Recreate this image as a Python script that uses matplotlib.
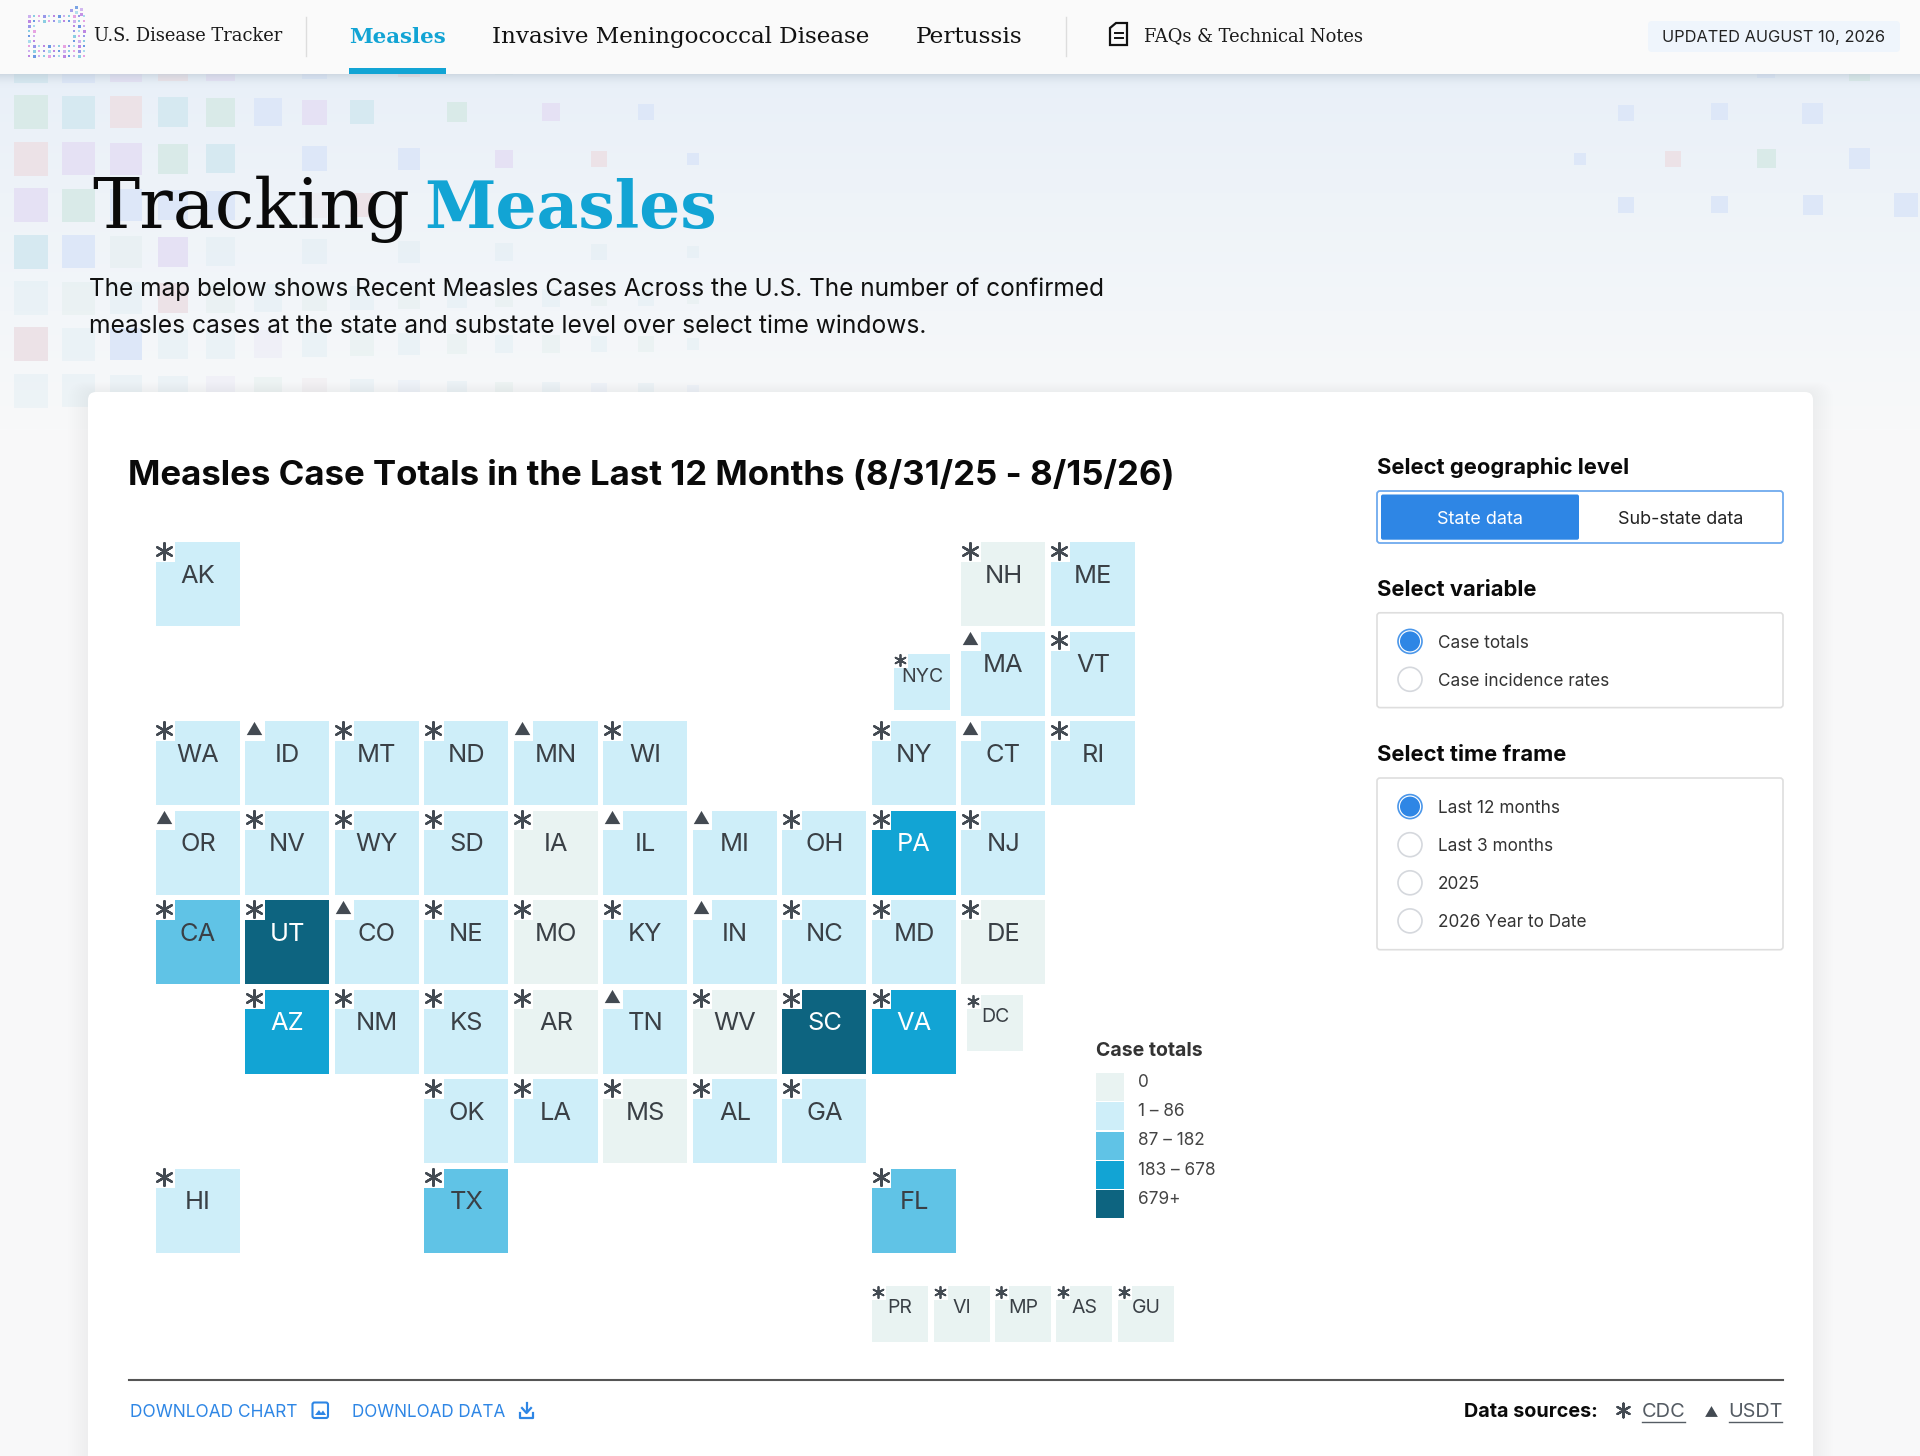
# Tile map of measles case totals, with the page around it

import matplotlib
matplotlib.use("Agg")
import numpy as np
import matplotlib.pyplot as plt
from matplotlib.patches import Rectangle, FancyBboxPatch, Circle, Polygon

SANS = "Inter"
SLAB = "DejaVu Serif"

# tile map, one list per row, "" is an empty cell
grid_rows = [
    ["AK", "", "", "", "", "", "", "", "", "NH", "ME"],
    ["", "", "", "", "", "", "", "", "", "MA", "VT"],
    ["WA", "ID", "MT", "ND", "MN", "WI", "", "", "NY", "CT", "RI"],
    ["OR", "NV", "WY", "SD", "IA", "IL", "MI", "OH", "PA", "NJ", ""],
    ["CA", "UT", "CO", "NE", "MO", "KY", "IN", "NC", "MD", "DE", ""],
    ["", "AZ", "NM", "KS", "AR", "TN", "WV", "SC", "VA", "", ""],
    ["", "", "", "OK", "LA", "MS", "AL", "GA", "", "", ""],
    ["HI", "", "", "TX", "", "", "", "", "FL", "", ""],
]
territories = ["PR", "VI", "MP", "AS", "GU"]

# states by legend class, anything not named is in the 1 - 86 class
bin_zero = ["NH", "IA", "MO", "DE", "AR", "WV", "MS", "DC", "PR", "VI", "MP", "AS", "GU"]
bin_87_182 = ["CA", "TX", "FL"]
bin_183_678 = ["PA", "AZ", "VA"]
bin_679_up = ["UT", "SC"]
usdt_states = ["MA", "ID", "MN", "CT", "OR", "IL", "MI", "CO", "IN", "TN"]

legend_labels = ["0", "1 \u2013 86", "87 \u2013 182", "183 \u2013 678", "679+"]
bin_colors = ["#E9F3F2", "#CEEEF9", "#60C3E6", "#12A4D4", "#0D6480"]

variable_options = ["Case totals", "Case incidence rates"]
time_options = ["Last 12 months", "Last 3 months", "2025", "2026 Year to Date"]

# decoration behind the title, letter = colour, lower case = faded
bg_rows = [
    "CBPRP.B.R.g....",
    "GCRCGBPC.G.P.B.",
    "RPPGC.B.B.P.R.B",
    "PGBBB.rR.......",
    "CBgPc.c.c.c.c.c",
    "cgcRgcgcgcgcgcg",
    "RcBccpcgcgcgcgc",
    "ccccpgrcbcgcbcb",
]
bg_colors = {"C": "#D6E9F1", "B": "#DDE7F8", "P": "#E5E1F4", "R": "#ECE2E7", "G": "#D9EAE8"}
bg_widths = [34, 33, 32, 30, 29, 28, 25, 24, 22, 20, 18, 18, 16, 16, 12]
bg_right = [
    (1757, 60, 18, "B"), (1849, 60, 21, "G"),
    (1618, 105, 16, "B"), (1711, 103, 17, "B"), (1802, 103, 21, "B"),
    (1574, 153, 12, "B"), (1665, 151, 16, "R"), (1757, 149, 19, "G"), (1849, 148, 21, "B"),
    (1618, 197, 16, "B"), (1711, 196, 17, "B"), (1803, 195, 20, "B"), (1894, 193, 24, "B"),
]
logo_colors = ["#C9A8EE", "#7FC8E0", "#E59AE0", "#8E8CE8", "#A0D8EC", "#B77AE0", "#5C8FE0"]

fig = plt.figure(figsize=(19.2, 14.56), dpi=100, facecolor="#F8F8F9")
ax = fig.add_axes([0, 0, 1, 1])
ax.set_xlim(0, 1920)
ax.set_ylim(1456, 0)
ax.axis("off")


def px(size):
    return size * 0.72


def txt(x, y, s, size, color="#111111", weight="normal", ha="left", family=SANS, zorder=10):
    return ax.text(x, y, s, fontsize=px(size), color=color, fontweight=weight, ha=ha,
                   va="baseline", family=family, zorder=zorder)


def round_box(x0, y0, x1, y1, r, face, edge="none", lw=0, alpha=None, zorder=3):
    box = FancyBboxPatch((x0, y0), x1 - x0, y1 - y0, boxstyle=f"round,pad=0,rounding_size={r}",
                         facecolor=face, edgecolor=edge, linewidth=lw, alpha=alpha, zorder=zorder)
    ax.add_patch(box)


# page background, fades down to the plain page colour
grad = np.linspace(0, 1, 256).reshape(-1, 1)
top = np.array(matplotlib.colors.to_rgb("#E9F0F8"))
bottom = np.array(matplotlib.colors.to_rgb("#F8F9FA"))
ax.imshow(top + (bottom - top) * grad[..., None], extent=(0, 1920, 430, 74), aspect="auto", zorder=0)
ax.set_xlim(0, 1920)
ax.set_ylim(1456, 0)

# squares behind the title
for r, row in enumerate(bg_rows):
    yc = 66 + 46.4 * r
    for c, ch in enumerate(row):
        if ch == ".":
            continue
        w = bg_widths[c]
        ax.add_patch(Rectangle((31 + 47.3 * c - w / 2, yc - w / 2), w, w,
                               facecolor=bg_colors[ch.upper()],
                               alpha=1.0 if ch.isupper() else 0.3, zorder=1))
for x0, y0, w, ch in bg_right:
    ax.add_patch(Rectangle((x0, y0), w, w, facecolor=bg_colors[ch], zorder=1))

# header bar
for i in range(14):
    ax.add_patch(Rectangle((0, 74 + i), 1920, 1, facecolor="#B8C4D0", alpha=0.5 * (1 - i / 14) ** 2, zorder=4))
ax.add_patch(Rectangle((0, 0), 1920, 74, facecolor="#FAFAFA", zorder=5))
ax.add_patch(Rectangle((349, 68), 97, 6, facecolor="#12A4D4", zorder=6))
ax.plot([306, 306], [17, 56], color="#DDDDDD", lw=1, zorder=6)
ax.plot([1066, 1066], [17, 56], color="#DDDDDD", lw=1, zorder=6)

# logo, a ring of small dots
k = 0
for ly in np.arange(15, 56, 5):
    for lx in np.arange(28, 84, 5):
        if 36 < lx < 72 and 22 < ly < 44:
            continue
        size = 3.2 if (k % 3 == 0) else 2.0
        ax.add_patch(Rectangle((lx, ly), size, size, facecolor=logo_colors[k % len(logo_colors)],
                               alpha=0.9, zorder=6))
        k += 1
for lx, ly in [(70, 9), (75, 11), (80, 13), (75, 6), (80, 8)]:
    ax.add_patch(Rectangle((lx, ly), 2.5, 2.5, facecolor=logo_colors[k % len(logo_colors)], alpha=0.8, zorder=6))
    k += 1

txt(94, 41, "U.S. Disease Tracker", 17.9, family=SLAB, color="#1A1A1A", zorder=7)
txt(349, 43, "Measles", 21.4, color="#12A4D4", weight="bold", family=SLAB, zorder=7)
txt(492, 43, "Invasive Meningococcal Disease", 23, family=SLAB, zorder=7)
txt(916, 43, "Pertussis", 23.3, family=SLAB, zorder=7)
txt(1144, 41, "FAQs & Technical Notes", 17.9, family=SLAB, color="#1A1A1A", zorder=7)

# doc icon
ax.add_patch(Polygon([(1110, 28), (1116, 23), (1127, 23), (1127, 45), (1110, 45)], closed=True,
                     facecolor="none", edgecolor="#111111", lw=1.6, zorder=7))
ax.plot([1114.5, 1122.5], [33, 33], color="#111111", lw=1.4, zorder=7)
ax.plot([1114.5, 1122.5], [38, 38], color="#111111", lw=1.4, zorder=7)

round_box(1648, 21, 1900, 52, 4, "#EFF5FC", zorder=6)
txt(1774, 42, "UPDATED AUGUST 10, 2026", 16.4, color="#222222", ha="center", zorder=7)

# heading
txt(92, 228, "Tracking", 70.5, color="#0A0A0A", family=SLAB)
txt(424, 228, "Measles", 64.5, color="#12A4D4", weight="bold", family=SLAB)
txt(89, 296, "The map below shows Recent Measles Cases Across the U.S. The number of confirmed", 24.45)
txt(89, 333, "measles cases at the state and substate level over select time windows.", 24.6)

# card, soft shadow first
for i in range(1, 11):
    round_box(88 - i * 2, 392 - i, 1813 + i * 2, 1500, 8 + i, "#8090A0", alpha=0.008, zorder=2)
round_box(88, 392, 1813, 1500, 8, "#FFFFFF", zorder=3)

txt(128, 485, "Measles Case Totals in the Last 12 Months (8/31/25 - 8/15/26)", 34.8, weight="bold", color="#0A0A0A")

# map axes, one unit is one grid cell
CELL = 89.5
ax_map = fig.add_axes([0, 0, 1, 1], zorder=5)
ax_map.set_xlim(-156 / CELL, (1920 - 156) / CELL)
ax_map.set_ylim((1456 - 542) / CELL, -542 / CELL)
ax_map.axis("off")
ax_map.patch.set_alpha(0)

STAR_MARK = (6, 2, 0)
TRI_MARK = [(-1, -0.85), (1, -0.85), (0, 0.85)]
MARK_COLOR = "#434A52"


def bin_of(name):
    if name in bin_zero:
        return 0
    if name in bin_87_182:
        return 2
    if name in bin_183_678:
        return 3
    if name in bin_679_up:
        return 4
    return 1


def draw_tile(name, col, row, small=False):
    size = (56 if small else 84) / CELL
    b = bin_of(name)
    ax_map.add_patch(Rectangle((col, row), size, size, facecolor=bin_colors[b], edgecolor="none", zorder=2))
    notch = (14 if small else 19.5) / CELL
    ax_map.add_patch(Rectangle((col, row), notch, notch, facecolor="#FFFFFF", edgecolor="none", zorder=3))
    off = (6 if small else 8.5) / CELL
    if name in usdt_states:
        ax_map.scatter([col + off], [row + 6.5 / CELL], s=125, marker=TRI_MARK, color=MARK_COLOR,
                       linewidths=0, zorder=4)
    else:
        ms = 66 if small else 144
        lw = 1.3 if small else 1.7
        ax_map.scatter([col + off], [row + off], s=ms, marker=STAR_MARK, color=MARK_COLOR,
                       linewidths=lw, zorder=4)
    color = "#FFFFFF" if b >= 3 else "#3A4046"
    base = (27.5 if small else 40.7) / CELL
    ax_map.text(col + size / 2, row + base, name, fontsize=px(19.5 if small else 25.5), color=color,
                ha="center", va="baseline", family=SANS, zorder=5)


for r, row_names in enumerate(grid_rows):
    for c, name in enumerate(row_names):
        if name:
            draw_tile(name, c, r)

draw_tile("NYC", 8 + 22 / CELL, 1 + 22.5 / CELL, small=True)
draw_tile("DC", 9 + 5.5 / CELL, 5 + 5.5 / CELL, small=True)
for i, name in enumerate(territories):
    draw_tile(name, 8 + i * 61.5 / CELL, 8 + 27.7 / CELL, small=True)

# legend
txt(1096, 1056, "Case totals", 19.5, weight="bold", color="#333333")
for i, lab in enumerate(legend_labels):
    y0 = 1073 + 29.3 * i
    ax.add_patch(Rectangle((1096, y0), 28, 28, facecolor=bin_colors[i], zorder=4))
    txt(1138, 1086.7 + 29.3 * i, lab, 17.2, color="#444444")


# controls
def radio(y, label, selected):
    if selected:
        ax.add_patch(Circle((1410, y), 12, facecolor="#FFFFFF", edgecolor="#4B97EA", lw=1.2, zorder=5))
        ax.add_patch(Circle((1410, y), 10, facecolor="#2E86E5", edgecolor="none", zorder=6))
    else:
        ax.add_patch(Circle((1410, y), 12, facecolor="#FFFFFF", edgecolor="#D5D8DD", lw=1.2, zorder=5))
    txt(1438, y + 6.2, label, 17.2, color="#333333")


txt(1377, 474, "Select geographic level", 22, weight="bold", color="#0A0A0A")
round_box(1377, 491, 1783, 543, 3, "#FFFFFF", edge="#6FAAEE", lw=1.3, zorder=4)
round_box(1381, 494.5, 1579, 539.7, 2, "#2E86E5", zorder=5)
txt(1480, 524.5, "State data", 18, color="#FFFFFF", ha="center")
txt(1681, 524.5, "Sub-state data", 18, color="#222222", ha="center")

txt(1377, 596, "Select variable", 22, weight="bold", color="#0A0A0A")
round_box(1377, 612.8, 1783, 707.6, 3, "#FFFFFF", edge="#DEDEDE", lw=1.2, zorder=4)
for i, lab in enumerate(variable_options):
    radio(641.4 + 37.9 * i, lab, i == 0)

txt(1377, 761, "Select time frame", 22, weight="bold", color="#0A0A0A")
round_box(1377, 778, 1783, 949.7, 3, "#FFFFFF", edge="#DEDEDE", lw=1.2, zorder=4)
for i, lab in enumerate(time_options):
    radio(806.6 + 38.1 * i, lab, i == 0)

# footer
ax.plot([128.5, 1782.5], [1380, 1380], color="#555555", lw=1.5, zorder=4)
BLUE = "#2E86E5"
txt(129.5, 1417, "DOWNLOAD CHART", 17.3, color=BLUE)
round_box(312.5, 1402.5, 328, 1418, 2, "none", edge=BLUE, lw=1.5, zorder=5)
ax.add_patch(Polygon([(315, 1415), (319, 1410), (321, 1413), (323, 1410.5), (326, 1415)], closed=True,
                     facecolor=BLUE, zorder=5))
txt(352.5, 1417, "DOWNLOAD DATA", 17.1, color=BLUE)
ax.plot([526.5, 526.5], [1403, 1412], color=BLUE, lw=1.6, zorder=5)
ax.plot([522, 526.5, 531], [1408, 1413, 1408], color=BLUE, lw=1.6, zorder=5)
ax.plot([520, 520, 533, 533], [1413, 1417.5, 1417.5, 1413], color=BLUE, lw=1.6, zorder=5)

txt(1464, 1417, "Data sources:", 19.8, weight="bold", color="#0A0A0A")
ax.scatter([1623], [1410], s=100, marker=STAR_MARK, color=MARK_COLOR, linewidths=1.6, zorder=5)
txt(1642, 1417, "CDC", 20, color="#555C64")
ax.plot([1642, 1685], [1422, 1422], color="#555C64", lw=1, zorder=5)
ax.scatter([1711], [1410.5], s=84, marker=TRI_MARK, color=MARK_COLOR, linewidths=0, zorder=5)
txt(1728.5, 1417, "USDT", 19.8, color="#555C64")
ax.plot([1729, 1782], [1422, 1422], color="#555C64", lw=1, zorder=5)

fig.savefig("out.png", dpi=100, facecolor=fig.get_facecolor())
